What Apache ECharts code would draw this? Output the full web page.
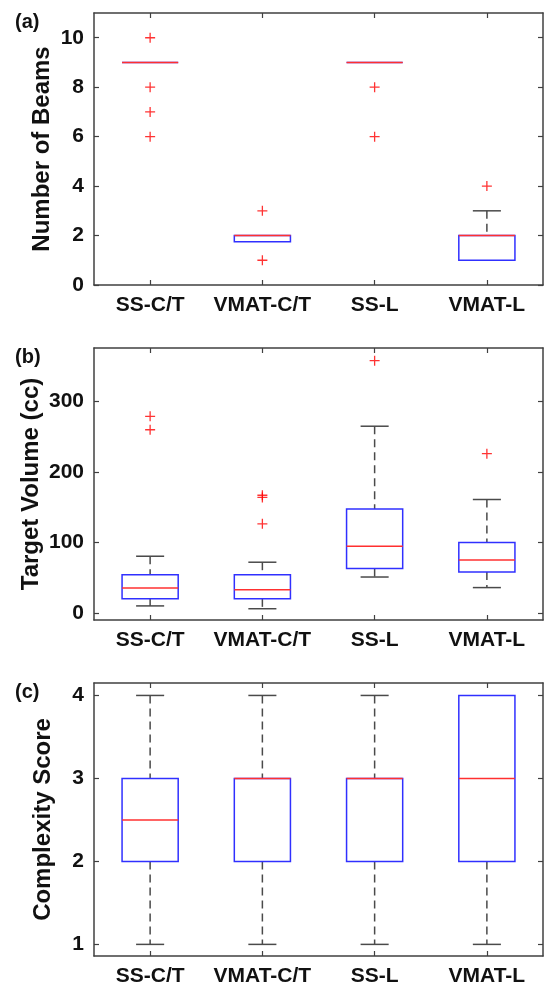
<!DOCTYPE html>
<html>
<head>
<meta charset="utf-8">
<script src="https://cdn.jsdelivr.net/npm/echarts@6/dist/echarts.min.js"></script>
<style>
  html, body { margin: 0; padding: 0; background: #fff; }
  #chart { width: 547px; height: 992px; }
</style>
</head>
<body>
<div id="chart"></div>
<script>
// 类别
const categories = ['SS-C/T', 'VMAT-C/T', 'SS-L', 'VMAT-L'];

// 箱线数据: [下须, Q1, 中位数, Q3, 上须]
const beamsBox = [[9, 9, 9, 9, 9], [1.75, 1.75, 2, 2, 2], [9, 9, 9, 9, 9], [1, 1, 2, 2, 3]];
const beamsOutliers = [[0, 10], [0, 8], [0, 7], [0, 6], [1, 3], [1, 1], [2, 8], [2, 6], [3, 4]];
const beamsTicks = [0, 2, 4, 6, 8, 10];

const volumeBox = [[10, 20.3, 35.4, 54.3, 80.5], [6, 20, 33, 54.3, 72], [51, 63, 94.5, 147.5, 265], [36, 58, 75, 100, 161]];
const volumeOutliers = [[0, 279], [0, 260], [1, 167], [1, 164], [1, 126.5], [2, 358], [3, 226]];
const volumeTicks = [0, 100, 200, 300];

const scoreBox = [[1, 2, 2.5, 3, 4], [1, 2, 3, 3, 4], [1, 2, 3, 3, 4], [1, 2, 3, 4, 4]];
const scoreOutliers = [];
const scoreTicks = [1, 2, 3, 4];

const FONT = 'Arial, "Liberation Sans", sans-serif';
const FRAME = '#404040';

const panels = [
  { tag: '(a)', name: 'Number of Beams', box: beamsBox, out: beamsOutliers, ticks: beamsTicks, min: 0, max: 11, top: 13, height: 272, gap: 40 },
  { tag: '(b)', name: 'Target Volume (cc)', box: volumeBox, out: volumeOutliers, ticks: volumeTicks, min: -10, max: 376, top: 348, height: 272, gap: 51 },
  { tag: '(c)', name: 'Complexity Score', box: scoreBox, out: scoreOutliers, ticks: scoreTicks, min: 0.86, max: 4.15, top: 683, height: 273, gap: 39 }
];

// 画 MATLAB 风格的箱线
function renderBox(params, api) {
  const x = api.value(0);
  const lo = api.coord([x, api.value(1)]);
  const q1 = api.coord([x, api.value(2)]);
  const med = api.coord([x, api.value(3)]);
  const q3 = api.coord([x, api.value(4)]);
  const hi = api.coord([x, api.value(5)]);
  const bw = api.size([1, 0])[0] * 0.5;
  const cx = lo[0];
  const whisker = { stroke: '#4a4a4a', lineWidth: 1.5, lineDash: [8, 5] };
  const cap = { stroke: '#4a4a4a', lineWidth: 1.5 };
  const children = [];
  // 须和端线只在超出箱体时画
  if (api.value(5) > api.value(4)) {
    children.push({ type: 'line', shape: { x1: cx, y1: hi[1], x2: cx, y2: q3[1] }, style: whisker });
    children.push({ type: 'line', shape: { x1: cx - bw / 4, y1: hi[1], x2: cx + bw / 4, y2: hi[1] }, style: cap });
  }
  if (api.value(1) < api.value(2)) {
    children.push({ type: 'line', shape: { x1: cx, y1: q1[1], x2: cx, y2: lo[1] }, style: whisker });
    children.push({ type: 'line', shape: { x1: cx - bw / 4, y1: lo[1], x2: cx + bw / 4, y2: lo[1] }, style: cap });
  }
  children.push({
    type: 'rect',
    shape: { x: cx - bw / 2, y: q3[1], width: bw, height: q1[1] - q3[1] },
    style: { fill: 'none', stroke: '#3030ff', lineWidth: 1.5 }
  });
  children.push({ type: 'line', shape: { x1: cx - bw / 2, y1: med[1], x2: cx + bw / 2, y2: med[1] }, style: { stroke: '#ff3030', lineWidth: 1.5 } });
  return { type: 'group', children: children };
}

const option = { animation: false, backgroundColor: '#fff', grid: [], xAxis: [], yAxis: [], series: [], graphic: [] };

panels.forEach((p, i) => {
  option.grid.push({ left: 94, right: 4, top: p.top, height: p.height });
  const line = { show: true, onZero: false, lineStyle: { color: FRAME, width: 1.5 } };
  const tick = { show: true, inside: true, length: 5, alignWithLabel: true, lineStyle: { color: FRAME, width: 1.2 } };
  option.xAxis.push({
    type: 'category', gridIndex: i, data: categories, position: 'bottom',
    axisLine: line, axisTick: tick,
    axisLabel: { interval: 0, color: '#111', fontFamily: FONT, fontWeight: 'bold', fontSize: 21, margin: 10 }
  });
  option.xAxis.push({
    type: 'category', gridIndex: i, data: categories, position: 'top',
    axisLine: line, axisTick: tick, axisLabel: { show: false }
  });
  const ytick = { show: true, inside: true, length: 5, customValues: p.ticks, lineStyle: { color: FRAME, width: 1.2 } };
  option.yAxis.push({
    type: 'value', gridIndex: i, min: p.min, max: p.max, position: 'left',
    name: p.name, nameLocation: 'middle', nameGap: p.gap, nameMoveOverlap: false,
    nameTextStyle: { color: '#111', fontFamily: FONT, fontWeight: 'bold', fontSize: 24 },
    axisLine: line, axisTick: ytick, splitLine: { show: false },
    axisLabel: { customValues: p.ticks, color: '#111', fontFamily: FONT, fontWeight: 'bold', fontSize: 21, margin: 10 }
  });
  option.yAxis.push({
    type: 'value', gridIndex: i, min: p.min, max: p.max, position: 'right',
    axisLine: line, axisTick: ytick, splitLine: { show: false }, axisLabel: { show: false }
  });
  option.series.push({
    type: 'custom', xAxisIndex: 2 * i, yAxisIndex: 2 * i,
    data: p.box.map((b, k) => [k].concat(b)),
    encode: { x: 0, y: [1, 2, 3, 4, 5] },
    renderItem: renderBox, silent: true
  });
  option.series.push({
    type: 'scatter', xAxisIndex: 2 * i, yAxisIndex: 2 * i,
    data: p.out, symbol: 'path://M0,5L10,5M5,0L5,10', symbolSize: 10,
    itemStyle: { color: 'none', borderColor: '#ff0000', borderWidth: 1.3 }, silent: true
  });
  option.graphic.push({
    type: 'text', left: 15, top: p.top - 1,
    style: { text: p.tag, fill: '#111', font: 'bold 20px ' + FONT }
  });
});

const chart = echarts.init(document.getElementById('chart'), null, { renderer: 'canvas' });
chart.setOption(option);
</script>
</body>
</html>
